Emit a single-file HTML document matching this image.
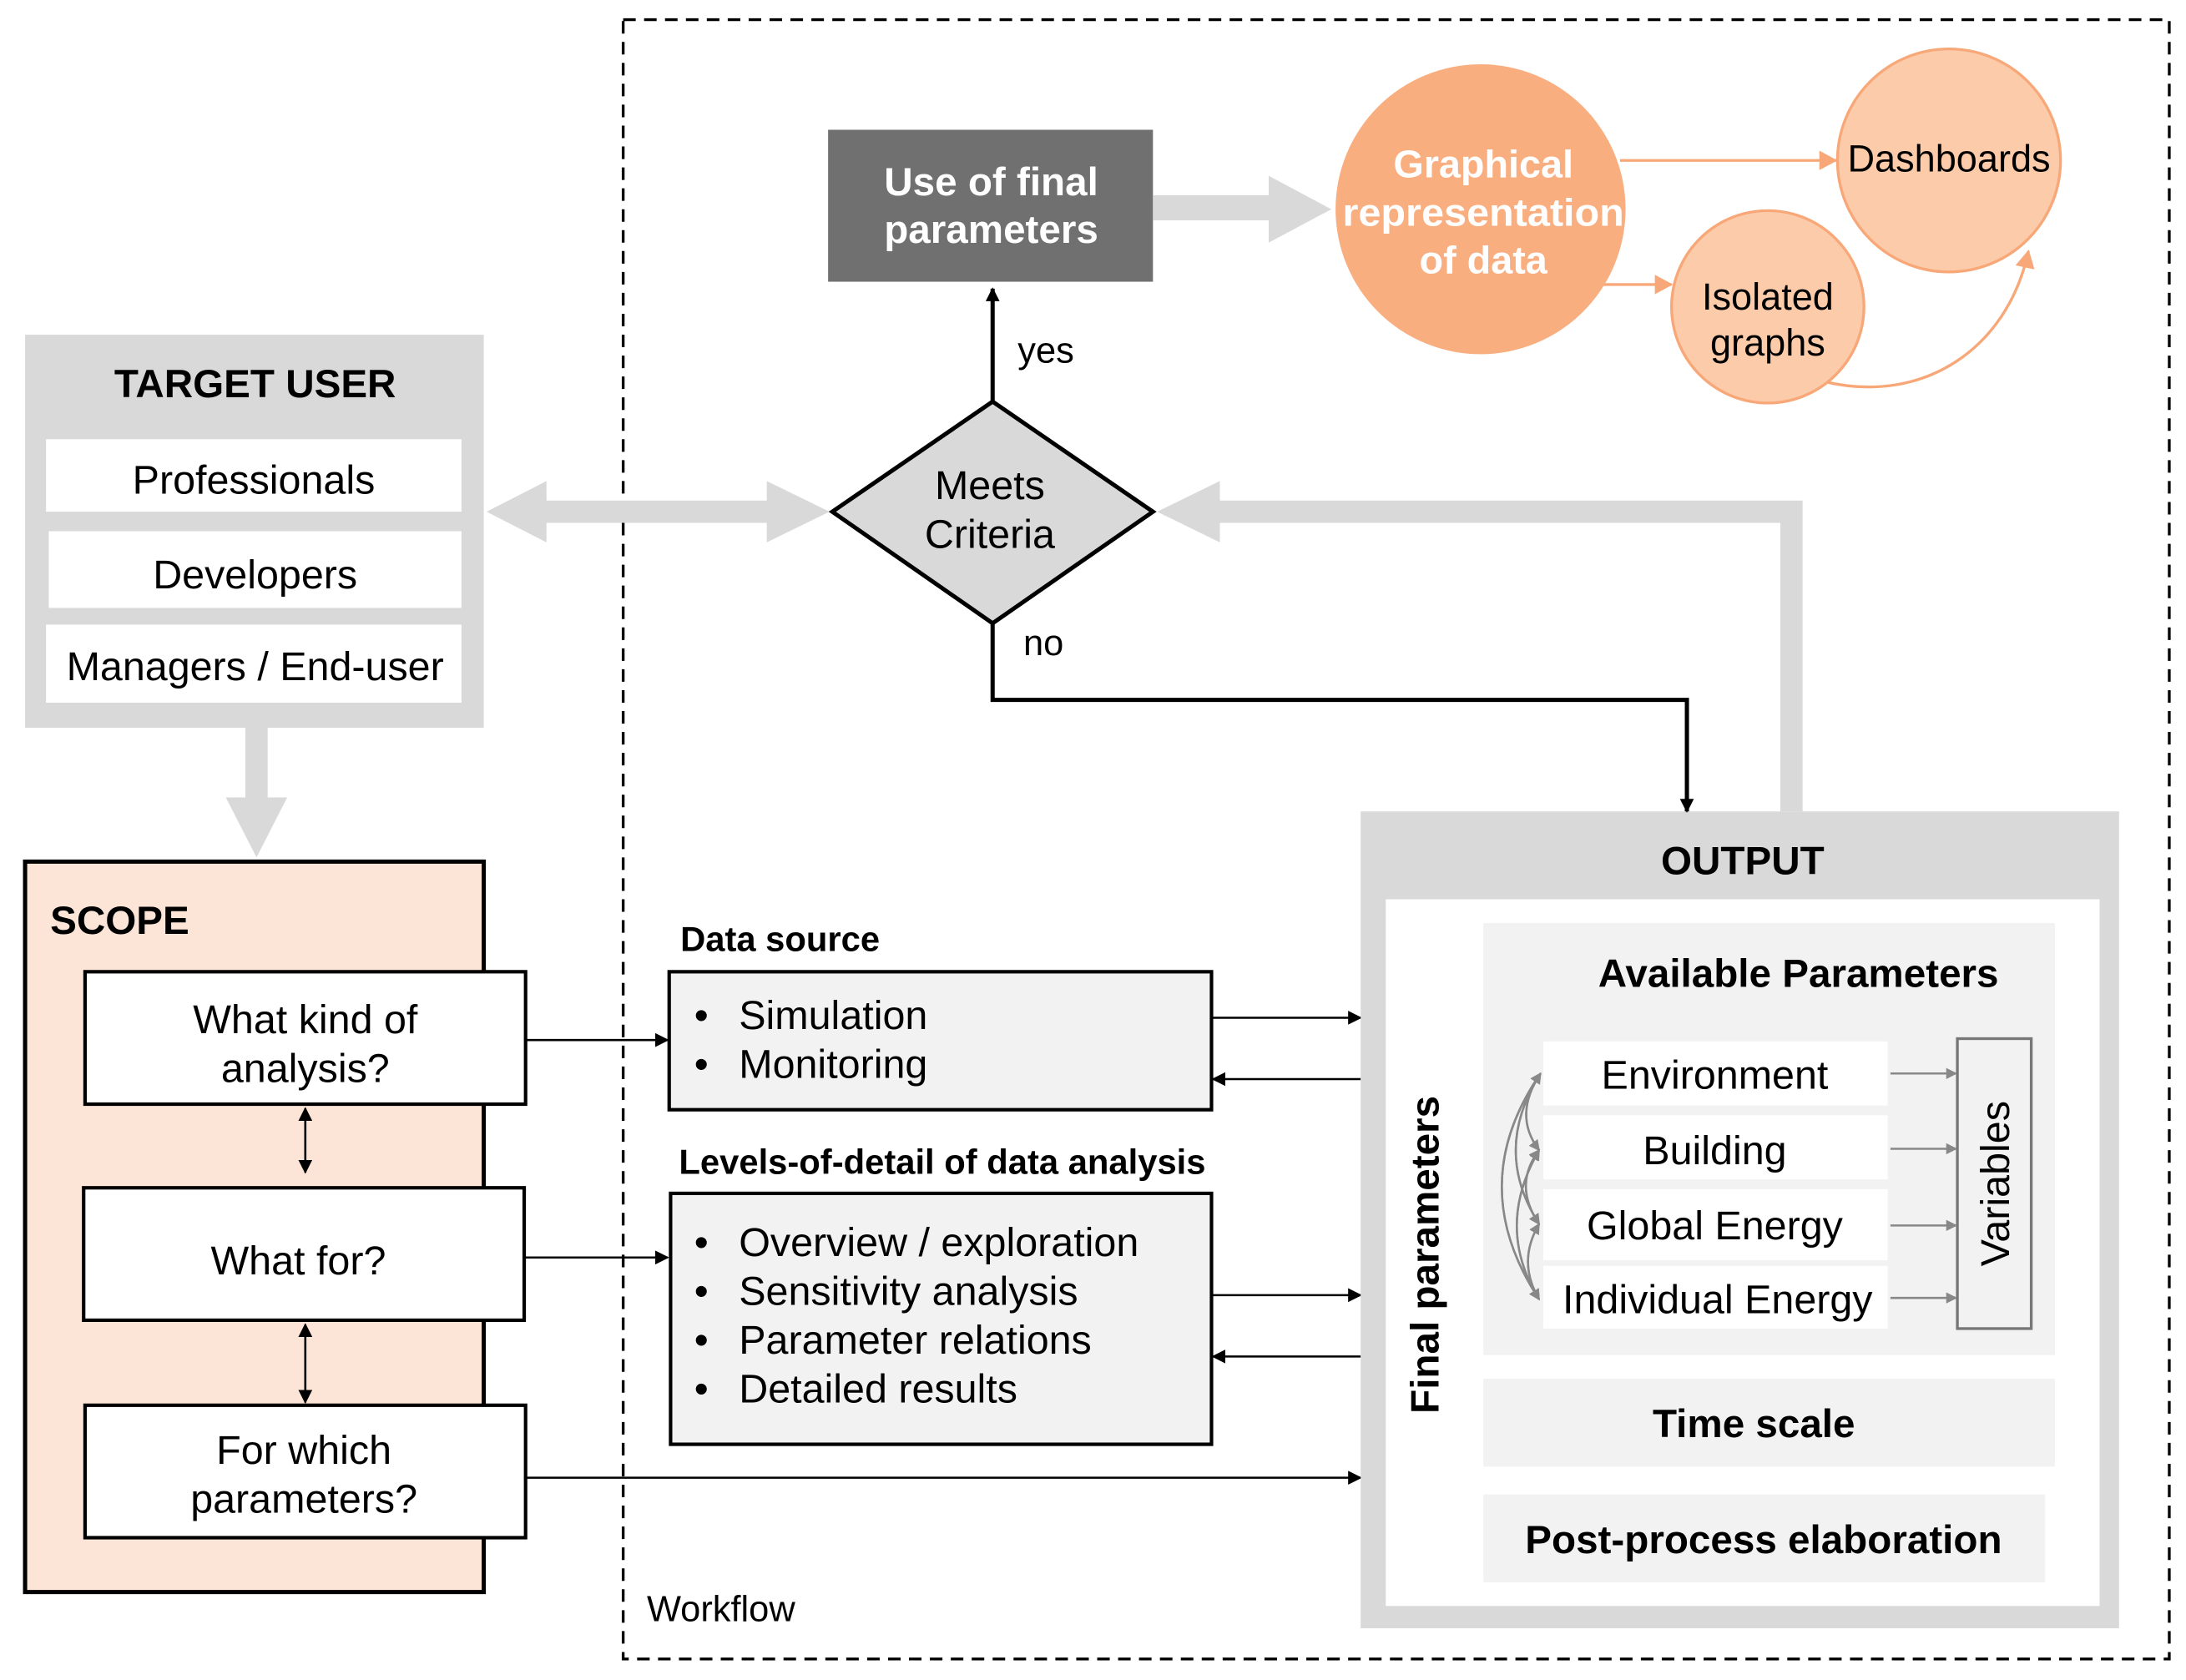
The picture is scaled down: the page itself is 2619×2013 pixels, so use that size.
<!DOCTYPE html>
<html><head><meta charset="utf-8"><style>
html,body{margin:0;padding:0;background:#fff}
svg{display:block}
text{font-family:"Liberation Sans",Arial,sans-serif;fill:#000}
</style></head><body>
<svg width="2619" height="2013" viewBox="0 0 1568 1205" xmlns="http://www.w3.org/2000/svg">
<defs>
<marker id="ab" markerWidth="10" markerHeight="10" refX="9" refY="5" orient="auto" markerUnits="userSpaceOnUse"><path d="M0,0 L10,5 L0,10 z" fill="#000"/></marker>
<marker id="ag" markerWidth="8" markerHeight="8" refX="7" refY="4" orient="auto" markerUnits="userSpaceOnUse"><path d="M0,0 L8,4 L0,8 z" fill="#888"/></marker>
<marker id="ao" markerWidth="14" markerHeight="14" refX="12" refY="7" orient="auto" markerUnits="userSpaceOnUse"><path d="M0,0 L13,7 L0,14 z" fill="#f8a878"/></marker>
</defs>
<rect x="0" y="0" width="1568" height="1205" fill="#fff"/>
<rect x="447" y="14" width="1109" height="1176" fill="none" stroke="#000" stroke-width="2" stroke-dasharray="9,6"/>
<text x="464" y="1163" font-size="26">Workflow</text>

<rect x="18" y="240" width="329" height="282" fill="#d9d9d9"/>
<text x="183" y="285" font-size="28.5" font-weight="bold" text-anchor="middle">TARGET USER</text>
<rect x="33" y="315" width="298" height="52" fill="#fff"/>
<text x="182" y="354" font-size="29" text-anchor="middle">Professionals</text>
<rect x="35" y="381" width="296" height="55" fill="#fff"/>
<text x="183" y="422" font-size="29" text-anchor="middle">Developers</text>
<rect x="33" y="448" width="298" height="56" fill="#fff"/>
<text x="183" y="488" font-size="29" text-anchor="middle">Managers / End-user</text>
<path d="M176,522 L192,522 L192,572 L206,572 L184,615 L162,572 L176,572 z" fill="#d9d9d9"/>
<path d="M349,367 L392,345 L392,359 L550,359 L550,345 L595,367 L550,389 L550,375 L392,375 L392,389 z" fill="#d9d9d9"/>

<rect x="18" y="618" width="329" height="524" fill="#fce4d6" stroke="#000" stroke-width="3"/>
<text x="36" y="670" font-size="28.5" font-weight="bold">SCOPE</text>
<rect x="61" y="697" width="316" height="95" fill="#fff" stroke="#000" stroke-width="2.5"/>
<text x="219" y="741" font-size="29" text-anchor="middle">What kind of</text>
<text x="219" y="776" font-size="29" text-anchor="middle">analysis?</text>
<rect x="60" y="852" width="316" height="95" fill="#fff" stroke="#000" stroke-width="2.5"/>
<text x="214" y="914" font-size="29" text-anchor="middle">What for?</text>
<rect x="61" y="1008" width="316" height="95" fill="#fff" stroke="#000" stroke-width="2.5"/>
<text x="218" y="1050" font-size="29" text-anchor="middle">For which</text>
<text x="218" y="1085" font-size="29" text-anchor="middle">parameters?</text>
<line x1="219" y1="803" x2="219" y2="841" stroke="#000" stroke-width="1.5" marker-end="url(#ab)"/>
<line x1="219" y1="841" x2="219" y2="795" stroke="#000" stroke-width="1.5" marker-end="url(#ab)"/>
<line x1="219" y1="958" x2="219" y2="1006" stroke="#000" stroke-width="1.5" marker-end="url(#ab)"/>
<line x1="219" y1="1000" x2="219" y2="950" stroke="#000" stroke-width="1.5" marker-end="url(#ab)"/>
<line x1="377" y1="746" x2="479" y2="746" stroke="#000" stroke-width="1.5" marker-end="url(#ab)"/>
<line x1="376" y1="902" x2="479" y2="902" stroke="#000" stroke-width="1.5" marker-end="url(#ab)"/>
<line x1="377" y1="1060" x2="976" y2="1060" stroke="#000" stroke-width="1.5" marker-end="url(#ab)"/>

<text x="488" y="682" font-size="25" font-weight="bold">Data source</text>
<rect x="480" y="697" width="389" height="99" fill="#f2f2f2" stroke="#000" stroke-width="2.5"/>
<text x="498" y="738" font-size="29">•</text><text x="530" y="738" font-size="29">Simulation</text>
<text x="498" y="773" font-size="29">•</text><text x="530" y="773" font-size="29">Monitoring</text>
<text x="487" y="842" font-size="25" font-weight="bold">Levels-of-detail of data analysis</text>
<rect x="481" y="856" width="388" height="180" fill="#f2f2f2" stroke="#000" stroke-width="2.5"/>
<text x="498" y="901" font-size="29">•</text><text x="530" y="901" font-size="29">Overview / exploration</text>
<text x="498" y="936" font-size="29">•</text><text x="530" y="936" font-size="29">Sensitivity analysis</text>
<text x="498" y="971" font-size="29">•</text><text x="530" y="971" font-size="29">Parameter relations</text>
<text x="498" y="1006" font-size="29">•</text><text x="530" y="1006" font-size="29">Detailed results</text>
<line x1="869" y1="730" x2="976" y2="730" stroke="#000" stroke-width="1.5" marker-end="url(#ab)"/>
<line x1="976" y1="774" x2="870" y2="774" stroke="#000" stroke-width="1.5" marker-end="url(#ab)"/>
<line x1="869" y1="929" x2="976" y2="929" stroke="#000" stroke-width="1.5" marker-end="url(#ab)"/>
<line x1="976" y1="973" x2="870" y2="973" stroke="#000" stroke-width="1.5" marker-end="url(#ab)"/>

<rect x="976" y="582" width="544" height="586" fill="#d9d9d9"/>
<text x="1250" y="627" font-size="28.5" font-weight="bold" text-anchor="middle">OUTPUT</text>
<rect x="994" y="645" width="512" height="507" fill="#fff"/>
<text transform="translate(1032,900) rotate(-90)" font-size="28.5" font-weight="bold" text-anchor="middle">Final parameters</text>
<rect x="1064" y="662" width="410" height="310" fill="#f2f2f2"/>
<text x="1290" y="708" font-size="28.5" font-weight="bold" text-anchor="middle">Available Parameters</text>
<rect x="1107" y="747" width="247" height="46" fill="#fff"/>
<text x="1230" y="781" font-size="29" text-anchor="middle">Environment</text>
<rect x="1107" y="800" width="247" height="46" fill="#fff"/>
<text x="1230" y="835" font-size="29" text-anchor="middle">Building</text>
<rect x="1107" y="853" width="247" height="51" fill="#fff"/>
<text x="1230" y="889" font-size="29" text-anchor="middle">Global Energy</text>
<rect x="1107" y="908" width="247" height="45" fill="#fff"/>
<text x="1232" y="942" font-size="29" text-anchor="middle">Individual Energy</text>
<rect x="1404" y="745" width="53" height="208" fill="none" stroke="#777" stroke-width="2"/>
<text transform="translate(1441,849) rotate(-90)" font-size="29" text-anchor="middle">Variables</text>
<g stroke="#888" stroke-width="1.5" fill="none">
<line x1="1356" y1="770" x2="1403" y2="770" marker-end="url(#ag)"/>
<line x1="1356" y1="824" x2="1403" y2="824" marker-end="url(#ag)"/>
<line x1="1356" y1="879" x2="1403" y2="879" marker-end="url(#ag)"/>
<line x1="1356" y1="931" x2="1403" y2="931" marker-end="url(#ag)"/>
<path d="M1105,770 Q1085,800 1104,825" marker-end="url(#ag)"/>
<path d="M1104,825 Q1085,800 1105,770" marker-end="url(#ag)"/>
<path d="M1105,770 Q1070,825 1104,878" marker-end="url(#ag)"/>
<path d="M1104,878 Q1070,825 1105,770" marker-end="url(#ag)"/>
<path d="M1105,770 Q1050,850 1104,932" marker-end="url(#ag)"/>
<path d="M1104,932 Q1050,850 1105,770" marker-end="url(#ag)"/>
<path d="M1104,825 Q1085,850 1104,878" marker-end="url(#ag)"/>
<path d="M1104,878 Q1085,850 1104,825" marker-end="url(#ag)"/>
<path d="M1104,825 Q1072,880 1104,932" marker-end="url(#ag)"/>
<path d="M1104,932 Q1072,880 1104,825" marker-end="url(#ag)"/>
<path d="M1104,878 Q1088,905 1104,932" marker-end="url(#ag)"/>
<path d="M1104,932 Q1088,905 1104,878" marker-end="url(#ag)"/>
</g>
<rect x="1064" y="989" width="410" height="63" fill="#f2f2f2"/>
<text x="1258" y="1031" font-size="28.5" font-weight="bold" text-anchor="middle">Time scale</text>
<rect x="1064" y="1072" width="403" height="63" fill="#f2f2f2"/>
<text x="1265" y="1114" font-size="28.5" font-weight="bold" text-anchor="middle">Post-process elaboration</text>

<path d="M1277,582 L1277,375 L875,375 L875,389 L830,367 L875,345 L875,359 L1293,359 L1293,582 z" fill="#d9d9d9"/>

<path d="M712,288 L827,367 L712,447 L597,367 z" fill="#d9d9d9" stroke="#000" stroke-width="3"/>
<text x="710" y="358" font-size="29" text-anchor="middle">Meets</text>
<text x="710" y="393" font-size="29" text-anchor="middle">Criteria</text>
<line x1="712" y1="288" x2="712" y2="207" stroke="#000" stroke-width="3" marker-end="url(#ab)"/>
<text x="730" y="260" font-size="26">yes</text>
<path d="M712,447 L712,502 L1210,502 L1210,582" fill="none" stroke="#000" stroke-width="3" marker-end="url(#ab)"/>
<text x="734" y="470" font-size="26">no</text>

<rect x="594" y="93" width="233" height="109" fill="#707070"/>
<text x="711" y="140" font-size="28.5" font-weight="bold" text-anchor="middle" style="fill:#fff">Use of final</text>
<text x="711" y="174" font-size="28.5" font-weight="bold" text-anchor="middle" style="fill:#fff">parameters</text>
<path d="M827,140 L910,140 L910,126 L955,150 L910,174 L910,158 L827,158 z" fill="#d9d9d9"/>

<line x1="1162" y1="115" x2="1317" y2="115" stroke="#f8a878" stroke-width="2" marker-end="url(#ao)"/>
<line x1="1150" y1="204" x2="1199" y2="204" stroke="#f8a878" stroke-width="2" marker-end="url(#ao)"/>
<path d="M1310,274 C1380,290 1440,250 1455,180" fill="none" stroke="#f8a878" stroke-width="2" marker-end="url(#ao)"/>
<ellipse cx="1062" cy="150" rx="104" ry="104" fill="#f9ae80"/>
<text x="1064" y="127" font-size="28" font-weight="bold" text-anchor="middle" style="fill:#fff">Graphical</text>
<text x="1064" y="162" font-size="28" font-weight="bold" text-anchor="middle" style="fill:#fff" textLength="202" lengthAdjust="spacingAndGlyphs">representation</text>
<text x="1064" y="196" font-size="28" font-weight="bold" text-anchor="middle" style="fill:#fff">of data</text>
<circle cx="1398" cy="115" r="80" fill="#fccbaa" stroke="#f8a878" stroke-width="2"/>
<text x="1398" y="123" font-size="27" text-anchor="middle">Dashboards</text>
<ellipse cx="1268" cy="220" rx="69" ry="69" fill="#fccbaa" stroke="#f8a878" stroke-width="2"/>
<text x="1268" y="222" font-size="27" text-anchor="middle">Isolated</text>
<text x="1268" y="255" font-size="27" text-anchor="middle">graphs</text>
</svg>
</body></html>
